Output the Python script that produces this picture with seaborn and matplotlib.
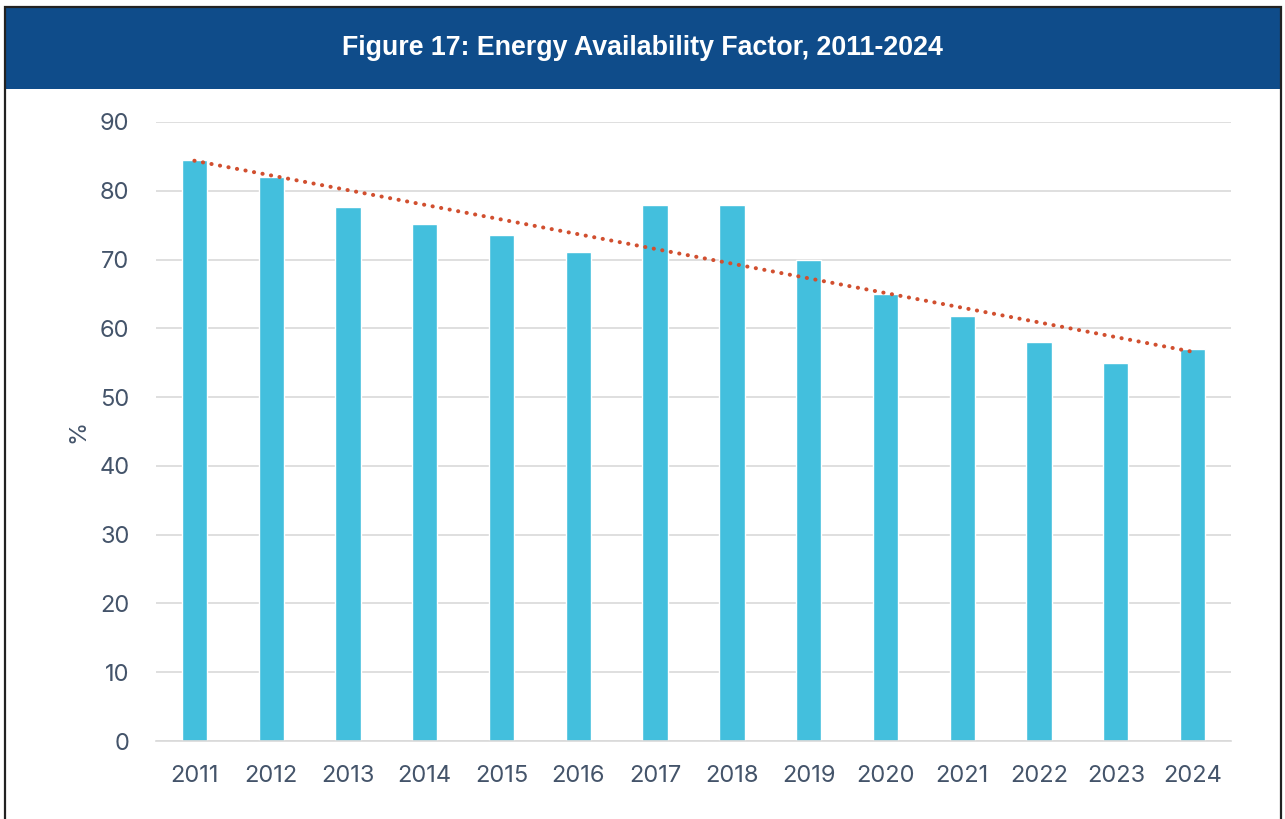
import numpy as np
import pandas as pd
import matplotlib
matplotlib.use("Agg")
import matplotlib.pyplot as plt
import seaborn as sns
from matplotlib.patches import Rectangle

years = ["2011", "2012", "2013", "2014", "2015", "2016", "2017",
         "2018", "2019", "2020", "2021", "2022", "2023", "2024"]
eaf = [84.5, 82.0, 77.7, 75.1, 73.6, 71.1, 78.0,
       78.0, 70.0, 65.0, 61.8, 58.0, 54.9, 57.0]
title = "Figure 17: Energy Availability Factor, 2011-2024"
y_ticks = [0, 10, 20, 30, 40, 50, 60, 70, 80, 90]

sns.set_theme(style="white")
plt.rcParams['font.family'] = ['Inter', 'DejaVu Sans']

text_color = "#44546A"
bar_color = "#43BFDD"
header_color = "#0F4C8A"
trend_color = "#D14F2F"

fig = plt.figure(figsize=(12.85, 8.19), dpi=100)
fig.patch.set_facecolor("white")

# header band and border
fig.patches.append(Rectangle((5/1285, 1 - 89/819), 1276/1285, 82/819,
                             transform=fig.transFigure, facecolor=header_color,
                             edgecolor="none", zorder=0))
fig.patches.append(Rectangle((4.5/1285, -0.01), 1276.5/1285, 1 - 6.5/819 + 0.01,
                             transform=fig.transFigure, facecolor="none",
                             edgecolor="#222222", linewidth=1.6, zorder=1))
fig.text(0.5, 1 - 48/819, title, ha="center", va="center", color="white",
         fontsize=19.3, fontweight="bold", family=["Liberation Sans", "DejaVu Sans"])

ax = fig.add_axes([156/1285, 1 - 741/819, (1231 - 156)/1285, (741 - 122)/819])
df = pd.DataFrame({"year": years, "eaf": eaf})
sns.barplot(data=df, x="year", y="eaf", color=bar_color, saturation=1,
            width=0.33, ax=ax, zorder=2)

# linear trend line
xs = np.arange(len(years))
coef = np.polyfit(xs, eaf, 1)
ax.plot(xs, np.polyval(coef, xs), linestyle=(0, (0.05, 2.1)), color=trend_color,
        linewidth=2.9, zorder=3, dash_capstyle="round")

ax.set_ylim(0, 90)
ax.set_xlim(-0.5, len(years) - 0.5)
ax.set_yticks(y_ticks)
ax.yaxis.grid(True, color="#D9D9D9", linewidth=1.2)
ax.set_axisbelow(True)
for s in ["top", "right", "left"]:
    ax.spines[s].set_visible(False)
ax.spines["bottom"].set_color("#D9D9D9")
ax.spines["bottom"].set_linewidth(1.2)
ax.tick_params(axis="both", length=0, labelsize=17, colors=text_color)
ax.tick_params(axis="y", pad=19)
ax.tick_params(axis="x", pad=17)
ax.set_xlabel("")
ax.set_ylabel("%", fontsize=17, color=text_color, labelpad=7)

fig.savefig("out.png", dpi=100)
